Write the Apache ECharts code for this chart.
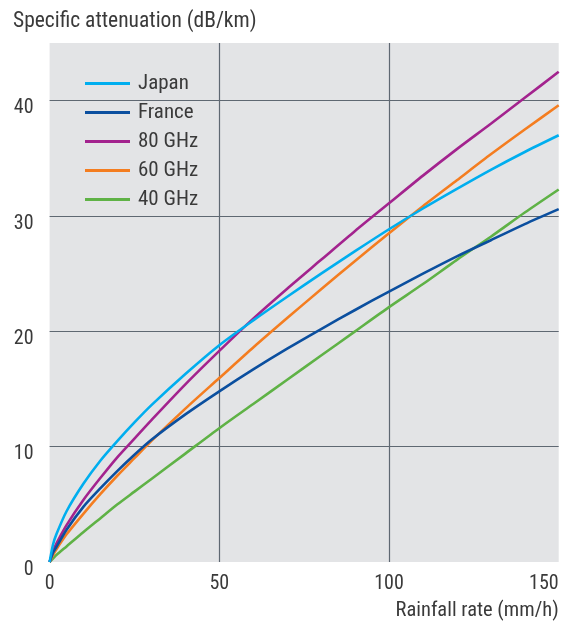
<!DOCTYPE html>
<html>
<head>
<meta charset="utf-8">
<script src="https://cdn.jsdelivr.net/npm/echarts@6/dist/echarts.min.js"></script>
<style>
  html, body { margin: 0; padding: 0; background: #ffffff; }
  #chart { width: 563px; height: 621px; }
</style>
</head>
<body>
<div id="chart"></div>
<script>
// Rainfall rate (mm/h) sample positions shared by every curve
const rainRate = [0, 1, 2, 5, 10, 15, 20, 25, 30, 40, 50, 60, 70, 80, 90, 100, 110, 120, 130, 140, 150];

// Specific attenuation (dB/km) per curve
const japan   = [0, 1.5, 2.4, 4.4, 6.8, 8.8, 10.5, 12.1, 13.6, 16.3, 18.8, 20.95, 23.0, 25.0, 26.95, 28.85, 30.65, 32.35, 34.0, 35.55, 37.0];
const france  = [0, 0.8, 1.3, 2.8, 4.8, 6.4, 7.9, 9.3, 10.6, 12.8, 14.8, 16.7, 18.5, 20.2, 21.85, 23.45, 25.0, 26.5, 27.9, 29.3, 30.6];
const ghz80   = [0, 0.9, 1.6, 3.2, 5.4, 7.3, 9.1, 10.7, 12.3, 15.4, 18.3, 21.1, 23.7, 26.2, 28.7, 31.1, 33.5, 35.8, 38.0, 40.25, 42.5];
const ghz60   = [0, 0.6, 1.1, 2.4, 4.2, 5.9, 7.5, 9.0, 10.5, 13.3, 15.95, 18.6, 21.15, 23.65, 26.1, 28.5, 30.85, 33.1, 35.35, 37.5, 39.6];
const ghz40   = [0, 0.3, 0.6, 1.35, 2.6, 3.8, 5.0, 6.1, 7.2, 9.4, 11.6, 13.7, 15.8, 17.9, 20.0, 22.1, 24.1, 26.2, 28.2, 30.3, 32.3];

const seriesNames = ['Japan', 'France', '80 GHz', '60 GHz', '40 GHz'];
const seriesValues = [japan, france, ghz80, ghz60, ghz40];
const seriesColors = ['#00aeef', '#0b4f9f', '#a3238e', '#f47d20', '#5fb246'];

const yTitle = 'Specific attenuation (dB/km)';
const xTitle = 'Rainfall rate (mm/h)';

const FONT = "'Liberation Sans Narrow', 'Roboto Condensed', 'DejaVu Sans Condensed', sans-serif";
const TEXT = '#3a3a3a';
const GRID_LINE = '#5f6872';

const chart = echarts.init(document.getElementById('chart'), null, { renderer: 'canvas' });

chart.setOption({
  animation: false,
  backgroundColor: '#ffffff',
  textStyle: { fontFamily: FONT, color: TEXT },
  title: {
    text: yTitle,
    left: 8,
    top: 6,
    textStyle: { fontFamily: FONT, fontSize: 21.5, fontWeight: 'normal', color: TEXT }
  },
  grid: {
    left: 49.6,
    right: 4.3,
    top: 43,
    bottom: 55.5,
    show: true,
    backgroundColor: '#e3e4e6',
    borderWidth: 0
  },
  legend: {
    orient: 'vertical',
    left: 80,
    top: 67,
    itemWidth: 45,
    itemHeight: 3,
    itemGap: 6,
    icon: 'rect',
    data: seriesNames,
    textStyle: {
      fontFamily: FONT,
      fontSize: 21,
      color: TEXT,
      lineHeight: 20,
      padding: [3, 0, 0, 3]
    }
  },
  xAxis: {
    type: 'value',
    min: 0,
    max: 150,
    interval: 50,
    name: xTitle,
    nameLocation: 'end',
    nameGap: 0,
    nameTextStyle: {
      fontFamily: FONT,
      fontSize: 20.5,
      color: TEXT,
      align: 'right',
      verticalAlign: 'top',
      padding: [38, 0, 0, 0]
    },
    axisLine: { show: false },
    axisTick: { show: false },
    axisLabel: {
      fontFamily: FONT,
      fontSize: 20,
      color: TEXT,
      margin: 12,
      alignMinLabel: 'center',
      alignMaxLabel: 'right'
    },
    splitLine: {
      show: true,
      showMinLine: false,
      showMaxLine: false,
      lineStyle: { color: GRID_LINE, width: 1.2 }
    }
  },
  yAxis: {
    type: 'value',
    min: 0,
    max: 45,
    interval: 10,
    axisLine: { show: false },
    axisTick: { show: false },
    axisLabel: {
      fontFamily: FONT,
      fontSize: 20,
      color: TEXT,
      margin: 16,
      verticalAlign: 'top',
      lineHeight: 15,
      showMaxLabel: false
    },
    splitLine: {
      show: true,
      showMinLine: false,
      showMaxLine: false,
      lineStyle: { color: GRID_LINE, width: 1.2 }
    }
  },
  series: seriesNames.map((name, i) => ({
    name: name,
    type: 'line',
    data: rainRate.map((r, j) => [r, seriesValues[i][j]]),
    smooth: 0.25,
    showSymbol: false,
    symbol: 'none',
    color: seriesColors[i],
    lineStyle: { color: seriesColors[i], width: 2.6 },
    z: 10 - i
  }))
});
</script>
</body>
</html>
